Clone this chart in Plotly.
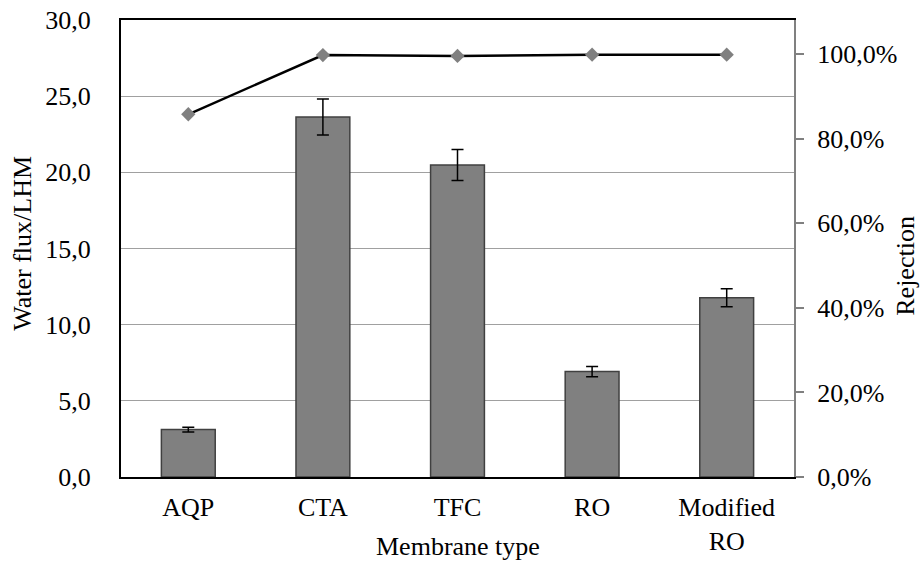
import plotly.graph_objects as go

categories = ["AQP", "CTA", "TFC", "RO", "Modified<br>RO"]
water_flux = [3.11, 23.63, 20.48, 6.92, 11.77]
flux_error = [0.15, 1.18, 1.02, 0.34, 0.59]
rejection = [0.858, 0.998, 0.996, 0.999, 0.999]

left_ticks = [0, 5, 10, 15, 20, 25, 30]
right_ticks = [0, 0.2, 0.4, 0.6, 0.8, 1.0]

FONT = "Liberation Serif"
FS = 26

fig = go.Figure()
fig.add_trace(go.Bar(
    x=categories, y=water_flux,
    marker=dict(color="#808080", line=dict(color="#404040", width=1.5)),
    error_y=dict(type="data", array=flux_error, color="black", thickness=1.5, width=6),
    yaxis="y",
))
fig.add_trace(go.Scatter(
    x=categories, y=rejection, mode="lines+markers",
    line=dict(color="black", width=2.5),
    marker=dict(symbol="diamond", size=11, color="#808080"),
    yaxis="y2",
))

fig.update_layout(
    width=922, height=562,
    margin=dict(l=121, r=128, t=20, b=84.5),
    paper_bgcolor="white", plot_bgcolor="white",
    showlegend=False,
    bargap=0.6,
    separators=", ",
    font=dict(family=FONT, size=FS, color="black"),
    xaxis=dict(
        showline=True, linecolor="black", linewidth=2, mirror=True,
        ticks="", showgrid=False, ticklabelstandoff=6, automargin=False,
        tickfont=dict(family=FONT, size=FS, color="black"),
    ),
    yaxis=dict(
        range=[0, 30], tickvals=left_ticks, tickformat=".1f",
        showline=True, linecolor="black", linewidth=2,
        showgrid=True, gridcolor="#a0a0a0", gridwidth=1.2,
        zeroline=False, ticks="", ticklabelstandoff=23, automargin=False,
        tickfont=dict(family=FONT, size=FS, color="black"),
    ),
    yaxis2=dict(
        overlaying="y", side="right", range=[0, 1.081],
        tickvals=right_ticks, tickformat=".1%",
        showline=True, linecolor="#808080", linewidth=2,
        ticks="outside", ticklen=8, tickcolor="#808080", tickwidth=1.5,
        showgrid=False, zeroline=False, ticklabelstandoff=8, automargin=False,
        tickfont=dict(family=FONT, size=FS, color="black"),
    ),
    annotations=[
        dict(text="Water flux/LHM", xref="paper", yref="paper",
             x=(22.5 - 121) / 673, y=(477.5 - 243.5) / 457.5,
             xanchor="center", yanchor="middle", textangle=-90,
             showarrow=False, font=dict(family=FONT, size=FS, color="black")),
        dict(text="Rejection", xref="paper", yref="paper",
             x=(906 - 121) / 673, y=(477.5 - 266) / 457.5,
             xanchor="center", yanchor="middle", textangle=-90,
             showarrow=False, font=dict(family=FONT, size=FS, color="black")),
        dict(text="Membrane type", xref="paper", yref="paper",
             x=0.5, y=(477.5 - 547.5) / 457.5,
             xanchor="center", yanchor="middle",
             showarrow=False, font=dict(family=FONT, size=FS, color="black")),
    ],
)

fig.write_html("out.html")
